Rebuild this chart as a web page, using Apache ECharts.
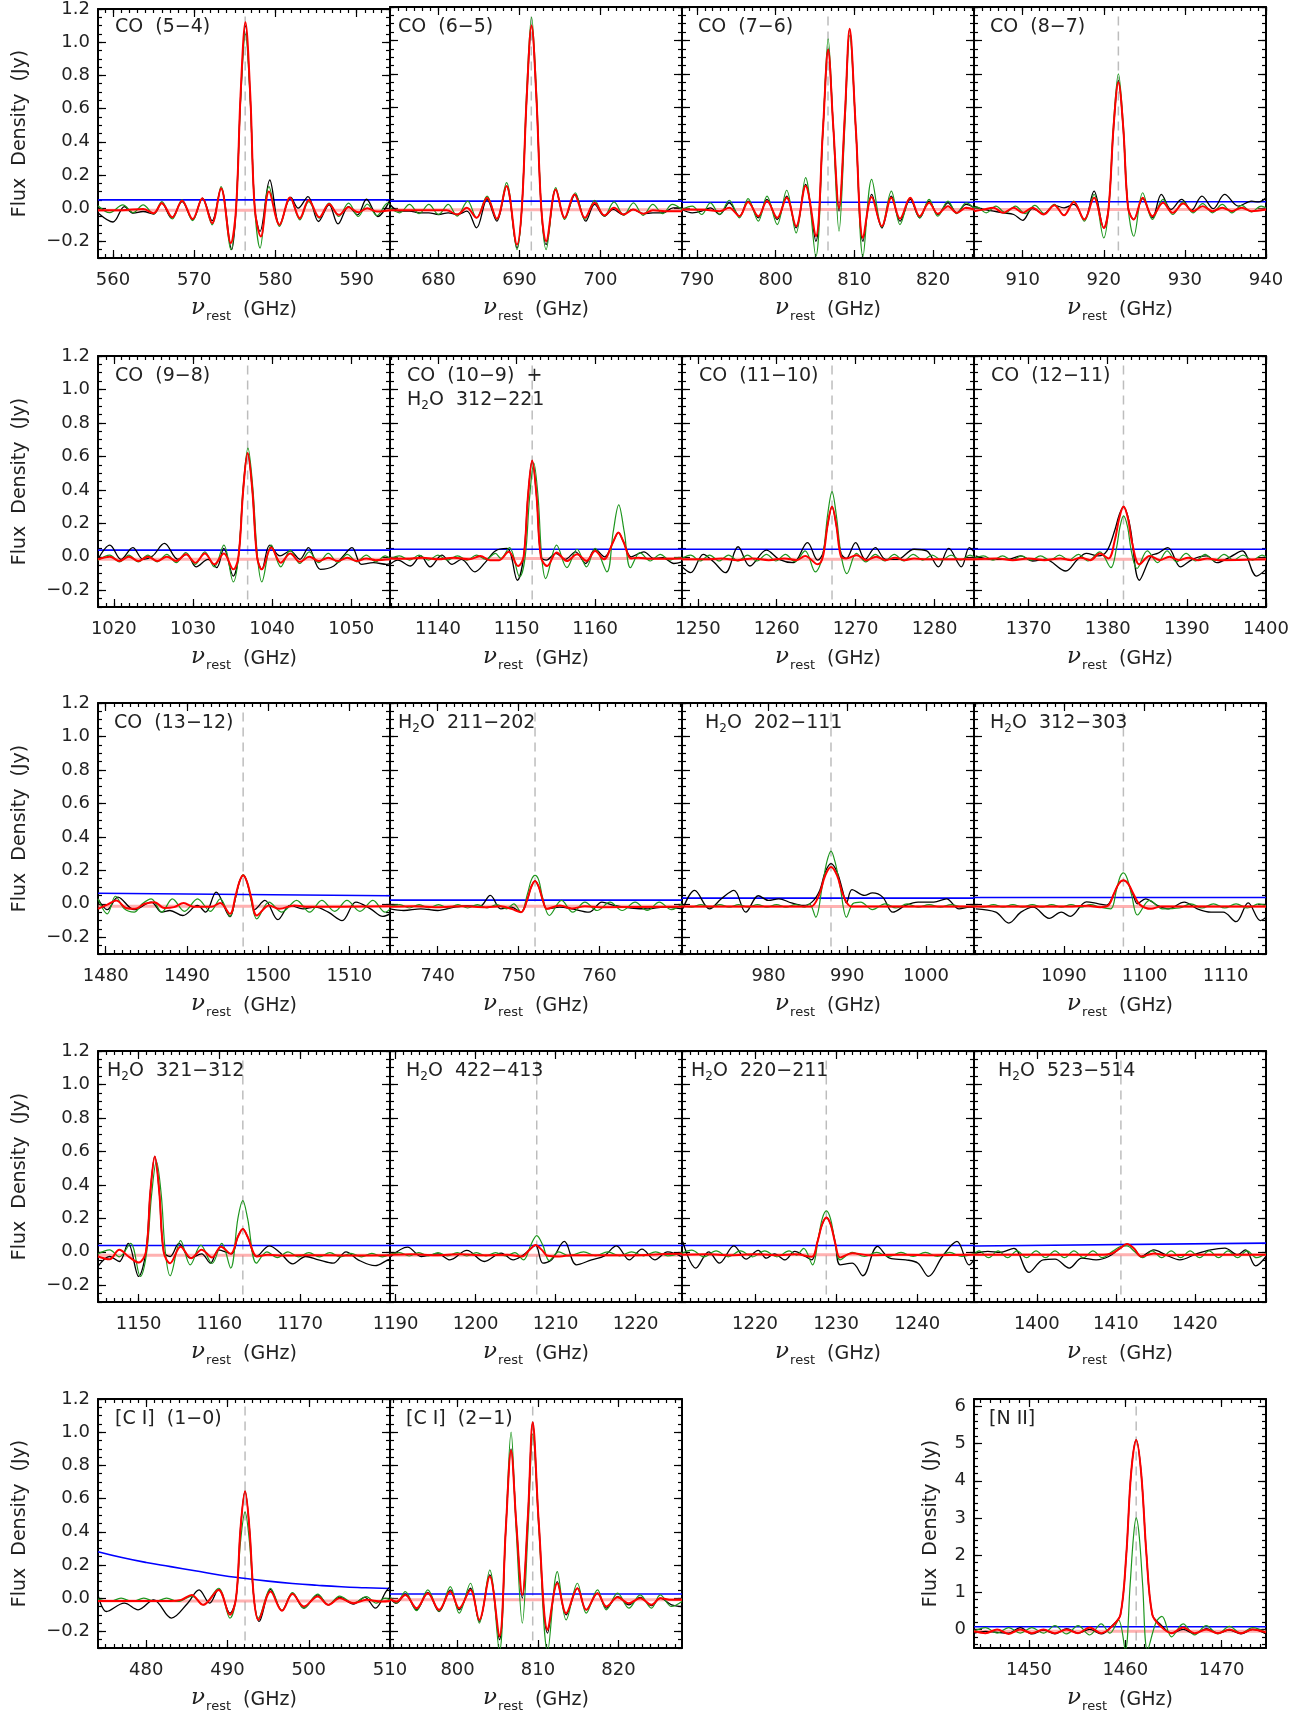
<!DOCTYPE html>
<html>
<head>
<meta charset="utf-8">
<script src="https://cdn.jsdelivr.net/npm/echarts@6.0.0/dist/echarts.min.js"></script>
<style>
html,body{margin:0;padding:0;background:#fff;}
#chart{width:1302px;height:1714px;}
</style>
</head>
<body>
<div id="chart"></div>
<script>
// ---- panel definitions ----
var panelTitles = [
  '{a|CO  (5−4)}', '{a|CO  (6−5)}', '{a|CO  (7−6)}', '{a|CO  (8−7)}',
  '{a|CO  (9−8)}', '{a|CO  (10−9)  +}\n{a|H}{s|2}{a|O  312−221}', '{a|CO  (11−10)}', '{a|CO  (12−11)}',
  '{a|CO  (13−12)}', '{a|H}{s|2}{a|O  211−202}', '{a|H}{s|2}{a|O  202−111}', '{a|H}{s|2}{a|O  312−303}',
  '{a|H}{s|2}{a|O  321−312}', '{a|H}{s|2}{a|O  422−413}', '{a|H}{s|2}{a|O  220−211}', '{a|H}{s|2}{a|O  523−514}',
  '{a|[C I]  (1−0)}', '{a|[C I]  (2−1)}', '{a|[N II]}'
];
var lineCenters = [576.27, 691.47, 806.65, 921.80, 1036.91, 1151.99, 1267.01, 1381.99, 1496.92,
  752.03, 987.93, 1097.37, 1162.91, 1207.64, 1228.79, 1410.64, 492.16, 809.34, 1461.13];
var xMins = [558.15, 674.0, 788.1, 904.0, 1018.0, 1133.9, 1248.0, 1363.1, 1479.05,
  734.1, 969.0, 1078.9, 1144.96, 1189.3, 1211.0, 1392.05, 474.06, 791.6, 1444.3];
var xMaxs = [594.1, 710.1, 825.2, 940.0, 1054.9, 1171.05, 1285.0, 1400.0, 1515.0,
  770.2, 1006.1, 1115.0, 1181.15, 1225.8, 1247.0, 1429.0, 510.0, 827.9, 1474.6];
var xTickLabels = [
  [560,570,580,590], [680,690,700], [790,800,810,820], [910,920,930,940],
  [1020,1030,1040,1050], [1140,1150,1160], [1250,1260,1270,1280], [1370,1380,1390,1400],
  [1480,1490,1500,1510], [740,750,760], [980,990,1000], [1090,1100,1110],
  [1150,1160,1170], [1190,1200,1210,1220], [1220,1230,1240], [1400,1410,1420],
  [480,490,500,510], [800,810,820], [1450,1460,1470]
];
var pinkLevels = [-0.012,-0.012,-0.01,-0.01,-0.015,-0.01,-0.015,-0.015,-0.015,-0.015,-0.016,-0.016,-0.02,-0.02,-0.018,-0.018,-0.017,-0.01,-0.05];

// ---- continuum (blue) ----
var p1b = [[558.15,0.05],[594.1,0.05]];
var p2b = [[674.0,0.04],[710.1,0.04]];
var p3b = [[788.1,0.033],[825.2,0.033]];
var p4b = [[904.0,0.036],[940.0,0.036]];
var p5b = [[1018.0,0.04],[1054.9,0.04]];
var p6b = [[1133.9,0.045],[1171.05,0.045]];
var p7b = [[1248.0,0.045],[1285.0,0.045]];
var p8b = [[1363.1,0.045],[1400.0,0.045]];
var p9b = [[1479.05,0.063],[1515.0,0.048]];
var p10b = [[734.1,0.022],[770.2,0.022]];
var p11b = [[969.0,0.034],[1006.1,0.034]];
var p12b = [[1078.9,0.038],[1115.0,0.038]];
var p13b = [[1144.96,0.038],[1181.15,0.038]];
var p14b = [[1189.3,0.038],[1225.8,0.038]];
var p15b = [[1211.0,0.038],[1247.0,0.038]];
var p16b = [[1392.05,0.035],[1429.0,0.052]];
var p17b = [[474.06,0.28],[477,0.245],[480,0.215],[483,0.19],[486,0.165],[489,0.14],[492,0.12],[495,0.103],[498,0.089],[501,0.078],[504,0.069],[507,0.063],[510,0.058]];
var p18b = [[791.6,0.025],[827.9,0.025]];
var p19b = [[1444.3,0.07],[1474.6,0.07]];

// ---- CO (5-4) ----
var p1k = [[558.2,-0.03],[560,-0.083],[561.4,0.01],[562.5,-0.03],[563.7,-0.02],[565,-0.035],[566,0.03],[567.2,-0.06],[568.5,0.04],[569.8,-0.07],[571,0.06],[572.2,-0.075],[573.3,0.12],[574.6,-0.25],[575.15,0.0],[575.7,0.66],[576.3,1.1],[576.9,0.66],[577.45,0.0],[578.1,-0.14],[579.3,0.17],[580.5,-0.1],[581.9,0.065],[582.8,0.0],[584,0.07],[585.3,-0.08],[586.6,0.02],[587.7,-0.095],[589,0.01],[590.1,-0.04],[591.2,0.054],[592.6,-0.05],[594.1,0.05]];
var p1r = [[558.15,-0.012],[561,-0.012],[563.7,-0.005],[565,-0.03],[566,0.03],[567.3,-0.055],[568.5,0.045],[569.8,-0.065],[571,0.06],[572.2,-0.09],[573.3,0.12],[574.5,-0.21],[575.15,0.0],[575.7,0.68],[576.3,1.12],[576.9,0.68],[577.45,0.0],[578.2,-0.17],[579.2,0.1],[580.5,-0.1],[581.8,0.065],[583,-0.06],[584.1,0.05],[585.4,-0.055],[586.6,0.025],[587.8,-0.04],[589,0.005],[590.2,-0.025],[591.3,0.0],[592.5,-0.02],[594.1,-0.012]];
var p1g = [[558.15,0.015],[559.6,-0.027],[561.2,0.02],[562.5,-0.027],[563.7,0.02],[565,-0.035],[566,0.04],[567.3,-0.065],[568.5,0.05],[569.8,-0.075],[571,0.06],[572.2,-0.1],[573.3,0.13],[574.5,-0.25],[575.15,0.0],[575.7,0.64],[576.3,1.05],[576.9,0.64],[577.45,0.0],[578.1,-0.24],[579.2,0.13],[580.5,-0.11],[581.8,0.065],[583,-0.07],[584.1,0.04],[585.4,-0.06],[586.6,0.03],[587.8,-0.05],[589,0.03],[590.2,-0.05],[591.3,0.025],[592.5,-0.045],[593.8,0.03],[594.1,0.02]];

// ---- CO (6-5) ----
var p2k = [[674,0.02],[675.2,-0.02],[676.4,-0.02],[677.6,-0.03],[678.8,-0.03],[680,-0.04],[681.2,-0.03],[682.3,-0.04],[683.5,-0.02],[684.7,-0.12],[686,0.05],[687.2,-0.08],[688.4,0.13],[689.7,-0.24],[690.3,0.0],[690.9,0.65],[691.5,1.09],[692.1,0.65],[692.7,0.0],[693.3,-0.22],[694.5,0.11],[695.6,-0.06],[696.9,0.08],[698.2,-0.08],[699.3,0.02],[700.5,-0.05],[701.6,-0.01],[702.8,-0.04],[704,-0.01],[705.3,-0.035],[706.5,-0.03],[707.8,-0.03],[709,0.0],[710.1,0.0]];
var p2r = [[674,-0.015],[681,-0.015],[682.3,-0.04],[683.5,0.0],[684.7,-0.06],[686,0.06],[687.2,-0.065],[688.4,0.13],[689.7,-0.22],[690.3,0.0],[690.9,0.66],[691.5,1.09],[692.1,0.66],[692.7,0.0],[693.3,-0.2],[694.5,0.11],[695.6,-0.06],[696.8,0.08],[698.1,-0.06],[699.3,0.03],[700.5,-0.045],[701.7,0.0],[702.9,-0.04],[704.1,-0.01],[705.3,-0.035],[706.5,-0.015],[708,-0.02],[710.1,-0.02]];
var p2g = [[674,0.0],[675.2,-0.03],[676.4,0.02],[677.6,-0.035],[678.8,0.02],[680,-0.04],[681.2,0.02],[682.3,-0.05],[683.6,0.04],[684.7,-0.06],[686,0.07],[687.2,-0.07],[688.4,0.15],[689.7,-0.25],[690.3,0.0],[690.9,0.7],[691.5,1.14],[692.1,0.7],[692.7,0.0],[693.3,-0.25],[694.5,0.12],[695.6,-0.07],[696.9,0.09],[698.1,-0.07],[699.3,0.045],[700.5,-0.05],[701.7,0.035],[702.9,-0.045],[704.1,0.03],[705.3,-0.045],[706.5,0.02],[707.7,-0.035],[708.9,0.02],[710.1,-0.01]];

// ---- CO (7-6) + [C I] (2-1) ----
var p3k = [[788.1,-0.01],[789.4,-0.03],[790.6,-0.02],[791.7,0.0],[792.9,-0.04],[794.1,0.03],[795.4,-0.05],[796.5,0.04],[797.8,-0.06],[798.9,0.05],[800.2,-0.07],[801.4,0.07],[802.6,-0.12],[803.8,0.14],[805.1,-0.2],[806,0.46],[806.67,0.95],[807.3,0.5],[808.05,-0.02],[808.8,0.56],[809.4,1.07],[810.2,0.46],[811.1,-0.2],[812.2,0.08],[813.5,-0.12],[814.7,0.07],[815.8,-0.08],[817.1,0.05],[818.3,-0.06],[819.5,0.04],[820.6,-0.04],[821.9,0.03],[823,-0.03],[824.2,0.02],[825.2,0.0]];
var p3r = [[788.1,-0.01],[791,-0.012],[792.9,-0.02],[794.1,0.0],[795.4,-0.05],[796.5,0.035],[797.8,-0.05],[798.9,0.04],[800.2,-0.06],[801.4,0.06],[802.6,-0.11],[803.8,0.13],[805.1,-0.17],[806,0.46],[806.67,0.944],[807.3,0.5],[808.05,0.0],[808.8,0.56],[809.4,1.07],[810.2,0.46],[811.1,-0.18],[812.2,0.065],[813.5,-0.11],[814.7,0.06],[815.8,-0.065],[817.1,0.06],[818.3,-0.05],[819.5,0.03],[820.6,-0.035],[821.9,0.01],[823,-0.03],[824.2,0.0],[825.2,-0.01]];
var p3g = [[788.1,-0.01],[789.4,0.01],[790.6,-0.04],[791.7,0.03],[792.9,-0.04],[794.1,0.045],[795.4,-0.06],[796.5,0.055],[797.8,-0.08],[798.9,0.07],[800.2,-0.1],[801.4,0.105],[802.6,-0.15],[803.8,0.18],[805.1,-0.29],[806,0.45],[806.67,1.01],[807.3,0.5],[808.05,-0.14],[808.8,0.5],[809.4,1.03],[810.2,0.45],[811.1,-0.29],[812.2,0.17],[813.5,-0.115],[814.7,0.1],[815.8,-0.1],[817.1,0.06],[818.3,-0.06],[819.5,0.05],[820.6,-0.05],[821.9,0.04],[823,-0.035],[824.2,0.03],[825.2,0.0]];

// ---- CO (8-7) ----
var p4k = [[904,0.01],[905.2,-0.01],[906.4,-0.02],[907.6,-0.03],[908.9,-0.04],[910,-0.075],[911.2,-0.005],[912.6,-0.035],[913.9,0.015],[915.1,0.0],[916.3,0.02],[917.6,-0.07],[918.8,0.1],[920,-0.12],[920.6,0.0],[921.2,0.47],[921.8,0.76],[922.4,0.47],[923,0.0],[923.7,-0.07],[924.8,0.055],[926,-0.06],[927.1,0.08],[928.3,-0.01],[929.6,0.05],[930.8,-0.015],[932.1,0.07],[933.5,-0.005],[934.9,0.08],[936.6,0.01],[938.2,0.04],[939.1,0.035],[940,0.06]];
var p4r = [[904,-0.02],[905.2,-0.01],[906.4,0.0],[907.6,-0.03],[908.9,0.0],[910,-0.03],[911.2,0.0],[912.6,-0.04],[913.9,0.015],[915.1,-0.045],[916.3,0.035],[917.6,-0.07],[918.8,0.06],[920,-0.12],[920.6,0.0],[921.2,0.48],[921.8,0.75],[922.4,0.48],[923,0.0],[923.7,-0.07],[924.8,0.06],[926,-0.05],[927.3,0.03],[928.5,-0.03],[929.8,0.025],[931,-0.02],[932.2,0.01],[933.4,-0.02],[934.6,0.0],[935.8,-0.02],[937,0.0],[938.2,-0.02],[940,-0.01]];
var p4g = [[904,0.0],[904.3,0.005],[905.5,-0.03],[906.7,0.01],[907.9,-0.03],[909.1,0.01],[910.3,-0.035],[911.5,0.015],[912.7,-0.035],[913.9,0.02],[915.1,-0.045],[916.3,0.04],[917.6,-0.08],[918.8,0.08],[920,-0.18],[920.6,0.0],[921.2,0.5],[921.8,0.8],[922.4,0.5],[923,0.0],[923.7,-0.17],[924.8,0.09],[926,-0.07],[927.3,0.05],[928.5,-0.04],[929.8,0.035],[931,-0.03],[932.2,0.025],[933.4,-0.03],[934.6,0.02],[935.8,-0.03],[937,0.015],[938.2,-0.025],[939.4,0.01],[940,0.0]];

// ---- CO (9-8) ----
var p5k = [[1018,-0.015],[1019.5,0.07],[1020.9,-0.015],[1022.4,0.055],[1023.7,-0.015],[1024.9,0.005],[1026.4,0.08],[1028.1,-0.015],[1029.2,0.015],[1030.4,-0.06],[1031.9,-0.015],[1033,-0.065],[1033.9,0.05],[1035.1,-0.115],[1035.75,0.0],[1036.35,0.4],[1036.91,0.62],[1037.5,0.4],[1038.1,0.0],[1038.7,-0.075],[1039.7,0.07],[1041,0.005],[1042.3,0.035],[1043.5,-0.015],[1044.6,0.055],[1046.1,-0.075],[1047.8,-0.055],[1049,0.005],[1050.1,0.055],[1051.3,-0.045],[1052.8,-0.035],[1054.5,-0.045],[1054.9,-0.04]];
var p5r = [[1018,-0.015],[1019.5,0.0],[1020.7,-0.025],[1021.9,0.0],[1023.1,-0.025],[1024.3,0.0],[1025.5,-0.025],[1026.7,0.0],[1027.9,-0.025],[1029.1,0.015],[1030.3,-0.035],[1031.5,0.02],[1032.7,-0.045],[1033.9,0.02],[1035.1,-0.075],[1035.75,0.0],[1036.35,0.4],[1036.91,0.62],[1037.5,0.4],[1038.1,0.0],[1038.7,-0.075],[1039.9,0.055],[1041.1,-0.035],[1042.3,0.02],[1043.5,-0.03],[1044.7,0.0],[1045.9,-0.025],[1047.1,-0.005],[1048.3,-0.025],[1049.5,-0.005],[1050.7,-0.025],[1051.9,-0.01],[1053.1,-0.02],[1054.9,-0.015]];
var p5g = [[1018,-0.02],[1019.5,0.01],[1020.7,-0.03],[1021.9,0.01],[1023.1,-0.03],[1024.3,0.01],[1025.5,-0.03],[1026.7,0.015],[1027.9,-0.035],[1029.1,0.025],[1030.3,-0.045],[1031.5,0.03],[1032.7,-0.06],[1033.9,0.07],[1035.1,-0.15],[1035.75,0.0],[1036.35,0.42],[1036.95,0.65],[1037.55,0.42],[1038.15,0.0],[1038.7,-0.15],[1039.9,0.07],[1041.1,-0.06],[1042.3,0.04],[1043.5,-0.04],[1044.7,0.03],[1045.9,-0.035],[1047.1,0.02],[1048.3,-0.035],[1049.5,0.015],[1050.7,-0.03],[1051.9,0.01],[1053.1,-0.03],[1054.3,0.005],[1054.9,-0.01]];

// ---- CO (10-9) + H2O 312-221 ----
var p6k = [[1133.9,-0.045],[1134.9,-0.02],[1136.5,-0.055],[1137.8,0.005],[1139,-0.06],[1140.5,0.01],[1141.8,-0.045],[1143,-0.015],[1144.7,-0.09],[1146,-0.035],[1147.3,0.035],[1148.8,0.05],[1150.1,-0.14],[1150.9,0.0],[1151.45,0.36],[1151.99,0.575],[1152.55,0.36],[1153.1,0.0],[1153.8,-0.02],[1155,0.02],[1156.2,-0.015],[1157.5,0.03],[1158.8,-0.04],[1160,0.045],[1161.2,0.0],[1162.3,0.09],[1162.95,0.145],[1163.6,0.09],[1164.6,0.0],[1166.2,0.03],[1167.5,-0.01],[1168.6,-0.005],[1170,-0.04],[1171.05,-0.03]];
var p6r = [[1133.9,-0.01],[1136,-0.012],[1138,-0.005],[1140,-0.015],[1142,-0.005],[1144,-0.015],[1145.4,0.005],[1146.6,-0.02],[1147.8,-0.02],[1149,0.03],[1150.2,-0.055],[1150.9,0.0],[1151.45,0.36],[1151.99,0.575],[1152.55,0.36],[1153.1,0.0],[1153.9,-0.055],[1155.1,0.025],[1156.4,-0.025],[1157.7,0.015],[1158.9,-0.025],[1160,0.035],[1161.1,-0.015],[1162.3,0.09],[1162.95,0.145],[1163.6,0.09],[1164.6,-0.01],[1165.5,-0.005],[1167,-0.012],[1171.05,-0.01]];
var p6g = [[1133.9,-0.015],[1135.1,0.005],[1136.4,-0.02],[1137.6,0.01],[1138.8,-0.02],[1140,0.01],[1141.2,-0.02],[1142.5,0.005],[1143.7,-0.02],[1144.9,0.01],[1146.1,-0.015],[1147.3,0.02],[1148,-0.01],[1149.1,0.055],[1150.4,-0.12],[1151.1,0.0],[1151.65,0.35],[1152.2,0.56],[1152.75,0.35],[1153.2,0.0],[1153.7,-0.13],[1155.1,0.07],[1156.4,-0.065],[1157.7,0.045],[1158.9,-0.06],[1160,0.05],[1161.5,-0.09],[1162.3,0.15],[1163,0.31],[1163.7,0.15],[1164.5,-0.065],[1165.7,0.025],[1167,-0.025],[1168.3,0.015],[1169.5,-0.02],[1170.4,-0.005],[1171.05,-0.01]];

// ---- CO (11-10) ----
var p7k = [[1248,-0.06],[1249.1,-0.095],[1250.7,0.015],[1252,-0.03],[1253.5,-0.095],[1255.1,0.06],[1256.6,-0.055],[1258.7,0.04],[1260.3,-0.015],[1262.1,-0.035],[1263.9,0.085],[1265.2,-0.02],[1265.85,0.02],[1266.45,0.19],[1267.01,0.3],[1267.55,0.19],[1268.15,0.02],[1268.8,-0.01],[1270,0.085],[1271.2,-0.015],[1272.5,0.055],[1273.8,-0.015],[1275.3,-0.015],[1277.4,0.045],[1279,0.035],[1280.5,-0.06],[1281.8,0.05],[1283.4,-0.06],[1284.4,0.055],[1285,0.03]];
var p7r = [[1248,-0.015],[1251,-0.015],[1253,-0.01],[1255,-0.02],[1257,-0.01],[1259,-0.02],[1261,-0.01],[1262.5,-0.02],[1263.6,0.005],[1265.2,-0.045],[1265.85,0.0],[1266.45,0.19],[1267.01,0.3],[1267.55,0.19],[1268.15,0.0],[1268.8,-0.01],[1270.1,0.01],[1271.4,-0.02],[1272.6,0.0],[1273.8,-0.02],[1275,-0.005],[1276.2,-0.02],[1277.4,-0.01],[1279,-0.015],[1285,-0.015]];
var p7g = [[1248,-0.01],[1249.1,0.01],[1250.3,-0.025],[1251.5,0.01],[1252.7,-0.025],[1253.9,0.01],[1255.1,-0.025],[1256.3,0.01],[1257.5,-0.025],[1258.7,0.015],[1259.9,-0.025],[1261.1,0.015],[1262.3,-0.03],[1263.6,0.035],[1264.9,-0.09],[1265.8,0.0],[1266.45,0.25],[1267.01,0.39],[1267.55,0.25],[1268.2,0.0],[1268.9,-0.1],[1270.1,0.02],[1271.3,-0.03],[1272.5,0.015],[1273.7,-0.025],[1274.9,0.015],[1276.1,-0.025],[1277.3,0.015],[1278.5,-0.02],[1279.7,0.01],[1280.9,-0.02],[1282.1,0.01],[1283.3,-0.02],[1284.5,0.01],[1285,0.0]];

// ---- CO (12-11) ----
var p8k = [[1363.3,0.005],[1365.3,-0.015],[1367.4,-0.015],[1369,0.005],[1370.5,-0.025],[1372.1,-0.015],[1374.7,-0.085],[1376.2,-0.015],[1377.3,0.02],[1378.8,0.005],[1379.9,0.035],[1380.9,0.16],[1381.45,0.25],[1382,0.3],[1382.55,0.24],[1382.9,0.16],[1384,-0.14],[1385.5,0.005],[1386.3,0.02],[1387.6,0.055],[1389.2,-0.06],[1390.7,-0.015],[1392.5,0.005],[1393.8,-0.035],[1395.5,0.0],[1397,0.035],[1398.8,-0.115],[1400,-0.075]];
var p8r = [[1363.1,-0.015],[1366,-0.01],[1368,-0.02],[1370,-0.01],[1372,-0.02],[1374,-0.01],[1375.4,-0.02],[1376.6,-0.005],[1377.8,-0.02],[1379,0.02],[1380.1,-0.01],[1380.9,0.1],[1381.45,0.23],[1382,0.3],[1382.55,0.23],[1383.1,0.08],[1384,-0.045],[1385.3,0.005],[1386.6,-0.02],[1387.8,0.0],[1389,-0.02],[1390.2,-0.005],[1391.4,-0.02],[1392.6,-0.01],[1394,-0.02],[1400,-0.015]];
var p8g = [[1363.1,-0.01],[1364.3,0.005],[1365.5,-0.02],[1366.7,0.005],[1367.9,-0.02],[1369.1,0.005],[1370.3,-0.02],[1371.5,0.005],[1372.7,-0.02],[1373.9,0.01],[1375.1,-0.02],[1376.3,0.015],[1377.5,-0.025],[1379,0.03],[1380.4,-0.065],[1381.1,0.05],[1381.55,0.18],[1382,0.245],[1382.5,0.18],[1383,0.03],[1383.7,-0.07],[1385,0.035],[1386.3,-0.035],[1387.5,0.035],[1388.7,-0.03],[1389.9,0.02],[1391.1,-0.025],[1392.3,0.015],[1393.5,-0.025],[1394.7,0.015],[1395.9,-0.02],[1397.1,0.01],[1398.3,-0.02],[1399.5,0.01],[1400,0.0]];

// ---- CO (13-12) ----
var p9k = [[1479.05,0.03],[1480.2,-0.035],[1481.5,0.04],[1483.5,-0.035],[1485.6,0.01],[1486.9,-0.05],[1487.9,-0.04],[1489.5,-0.07],[1491.3,-0.01],[1492.3,-0.05],[1493.6,0.07],[1495.3,-0.077],[1496,0.04],[1496.45,0.13],[1496.92,0.17],[1497.4,0.13],[1497.9,0.03],[1498.3,-0.035],[1499.6,0.02],[1501.2,-0.095],[1502.7,-0.01],[1504.3,-0.03],[1505.8,-0.02],[1507.4,-0.05],[1509.1,-0.1],[1510.8,0.01],[1512.6,-0.03],[1514.1,-0.075],[1515,-0.06]];
var p9r = [[1479.05,-0.03],[1480.2,-0.005],[1481.3,0.02],[1482.5,-0.025],[1483.6,-0.03],[1484.8,0.0],[1486,0.01],[1487.2,-0.025],[1488.4,-0.02],[1489.6,0.005],[1490.8,-0.018],[1493,-0.018],[1494.1,0.005],[1495.3,-0.06],[1496,0.05],[1496.45,0.13],[1496.92,0.17],[1497.4,0.13],[1497.9,0.04],[1498.6,-0.07],[1500.1,-0.01],[1501.4,-0.03],[1503.2,-0.01],[1505,-0.018],[1515,-0.015]];
var p9g = [[1479.05,0.03],[1480.2,-0.06],[1481.2,0.045],[1482.3,-0.03],[1483.5,-0.05],[1484.5,0.0],[1485.6,0.03],[1486.9,-0.05],[1488.2,0.03],[1489.7,-0.045],[1491.3,0.03],[1492.9,-0.045],[1494.1,0.03],[1495.3,-0.075],[1496,0.04],[1496.45,0.13],[1496.92,0.175],[1497.4,0.13],[1497.9,0.02],[1498.6,-0.09],[1500.1,0.01],[1501.7,-0.05],[1503.5,0.02],[1505.1,-0.05],[1506.6,0.02],[1508.2,-0.045],[1509.7,0.02],[1511.3,-0.045],[1512.9,0.02],[1514.4,-0.05],[1515,-0.03]];

// ---- H2O 211-202 ----
var p10k = [[734.1,-0.03],[735.8,-0.04],[737.9,-0.03],[740,-0.04],[742.1,-0.02],[743.6,-0.012],[745.2,-0.016],[746.5,0.05],[747.8,-0.03],[749.1,-0.02],[750.3,-0.05],[751.1,0.03],[751.55,0.1],[752.03,0.137],[752.5,0.1],[753,0.02],[753.5,-0.03],[755.1,-0.02],[756.6,-0.03],[758.7,-0.05],[760.3,0.01],[761.8,-0.01],[763.9,-0.025],[766,-0.03],[768,-0.02],[770.2,-0.03]];
var p10r = [[734.1,-0.018],[737,-0.015],[740,-0.02],[743,-0.015],[746,-0.02],[747.8,-0.015],[749.1,-0.03],[750.3,-0.05],[751.1,0.03],[751.55,0.1],[752.03,0.137],[752.5,0.1],[753,0.02],[753.5,-0.03],[755.1,-0.01],[756.6,-0.028],[758.2,-0.015],[760,-0.02],[770.2,-0.018]];
var p10g = [[734.1,-0.015],[735.3,-0.005],[736.5,-0.025],[737.7,-0.005],[738.9,-0.025],[740.1,-0.005],[741.3,-0.025],[742.5,-0.005],[743.7,-0.025],[744.9,-0.005],[746.1,-0.025],[747.3,-0.005],[748.5,-0.03],[749.4,0.0],[750.3,-0.05],[751.1,0.06],[751.55,0.14],[752.03,0.17],[752.5,0.14],[753,0.03],[753.8,-0.07],[755.3,0.02],[756.7,-0.05],[758.2,0.01],[759.7,-0.04],[761.3,0.01],[762.8,-0.04],[764.4,0.01],[765.9,-0.04],[767.4,0.01],[768.9,-0.035],[770.2,0.0]];

// ---- H2O 202-111 ----
var p11k = [[969.1,-0.03],[970.6,0.08],[972.5,-0.03],[974,0.03],[975.6,0.08],[977.1,-0.05],[978.7,0.048],[980,0.02],[981.3,0.03],[982.9,0.005],[984.4,-0.01],[985.5,0.01],[986.5,0.08],[987.2,0.19],[987.93,0.24],[988.7,0.19],[989.4,0.08],[989.9,0.005],[990.6,0.085],[992.2,0.05],[993.2,0.065],[994.5,0.04],[995.8,-0.05],[997.4,-0.01],[999,0.01],[1001,0.01],[1002.6,0.03],[1004.2,-0.03],[1005.5,-0.02],[1006.1,-0.02]];
var p11r = [[969,-0.016],[975,-0.016],[980,-0.016],[984,-0.016],[985.4,-0.016],[986.4,0.05],[987.2,0.17],[987.93,0.22],[988.7,0.17],[989.5,0.05],[990.5,-0.016],[994,-0.016],[1000,-0.016],[1006.1,-0.016]];
var p11g = [[969,-0.01],[970.2,-0.02],[971.4,-0.005],[972.6,-0.02],[973.8,-0.005],[975,-0.02],[976.2,-0.005],[977.4,-0.02],[978.6,-0.005],[979.8,-0.02],[981,-0.005],[982.2,-0.02],[983.4,-0.005],[984.6,-0.02],[985.2,0.0],[986,-0.08],[986.8,0.1],[987.4,0.25],[987.93,0.315],[988.45,0.25],[989.1,0.1],[989.9,-0.08],[990.7,0.0],[991.7,0.01],[993.2,-0.035],[994.8,0.0],[996.2,-0.025],[997.6,0.0],[999,-0.02],[1000.4,-0.005],[1001.8,-0.02],[1003.2,-0.005],[1004.6,-0.02],[1006.1,-0.01]];

// ---- H2O 312-303 ----
var p12k = [[1079.1,-0.03],[1081.6,-0.05],[1083.2,-0.115],[1084.7,-0.05],[1086.2,-0.02],[1088.2,-0.087],[1089.7,-0.05],[1090.8,-0.075],[1092.8,0.012],[1094.3,0.0],[1095.3,-0.008],[1096.2,0.06],[1096.8,0.12],[1097.37,0.14],[1097.95,0.12],[1098.6,0.05],[1099.1,0.0],[1100.1,0.03],[1101.6,-0.01],[1102.9,-0.03],[1104.9,0.01],[1106.5,-0.03],[1108.2,-0.05],[1109.7,-0.05],[1111.3,-0.107],[1112.8,0.005],[1114.3,-0.1],[1115,-0.08]];
var p12r = [[1078.9,-0.016],[1082,-0.016],[1086,-0.016],[1090,-0.016],[1093,-0.012],[1094.5,-0.02],[1095.5,-0.01],[1096.2,0.06],[1096.8,0.12],[1097.37,0.14],[1097.95,0.12],[1098.6,0.06],[1099.4,-0.005],[1100.8,-0.03],[1102,-0.016],[1106,-0.016],[1110,-0.016],[1115,-0.016]];
var p12g = [[1078.9,-0.01],[1080.1,-0.02],[1081.3,-0.005],[1082.5,-0.02],[1083.7,-0.005],[1084.9,-0.02],[1086.1,-0.005],[1087.3,-0.02],[1088.5,-0.005],[1089.7,-0.02],[1090.9,-0.005],[1092.1,-0.02],[1093.3,-0.005],[1094.5,-0.02],[1095.8,-0.03],[1096.5,0.08],[1096.95,0.16],[1097.37,0.185],[1097.85,0.15],[1098.4,0.05],[1099.1,-0.067],[1100.6,0.02],[1102.2,-0.03],[1104.3,-0.025],[1105.7,0.0],[1107.1,-0.025],[1108.5,0.0],[1109.9,-0.025],[1111.3,0.0],[1112.7,-0.025],[1114.1,0.0],[1115,-0.01]];

// ---- H2O 321-312 ----
var p13k = [[1144.96,-0.087],[1146.4,-0.028],[1147.6,-0.058],[1148.7,0.05],[1150,-0.147],[1150.9,0.0],[1151.45,0.36],[1152,0.57],[1152.55,0.36],[1153.1,0.0],[1153.9,-0.028],[1155,0.05],[1156.4,-0.038],[1157.8,-0.012],[1158.9,-0.068],[1159.9,0.012],[1161.5,-0.012],[1162.3,0.09],[1162.91,0.137],[1163.5,0.09],[1164.6,-0.028],[1166.2,0.035],[1167.5,-0.004],[1169.1,-0.072],[1170.7,-0.028],[1172.3,-0.048],[1174.1,-0.068],[1175.7,0.0],[1177.2,-0.048],[1179.3,-0.083],[1180.9,-0.048],[1181.15,-0.045]];
var p13r = [[1144.96,-0.028],[1146.4,-0.045],[1147.6,0.012],[1148.8,-0.03],[1150,-0.064],[1150.9,0.0],[1151.45,0.36],[1152,0.57],[1152.55,0.36],[1153.1,0.0],[1153.9,-0.068],[1155.2,0.03],[1156.5,-0.038],[1157.8,0.012],[1159.1,-0.034],[1160.2,0.03],[1161.4,-0.012],[1162.3,0.09],[1162.91,0.137],[1163.5,0.09],[1164.7,-0.028],[1166,-0.018],[1168,-0.022],[1172,-0.02],[1176,-0.022],[1181.15,-0.02]];
var p13g = [[1144.96,-0.012],[1146.4,0.012],[1147.6,-0.03],[1149,0.05],[1150.2,-0.147],[1151,0.0],[1151.6,0.34],[1152.2,0.54],[1152.8,0.34],[1153.3,0.0],[1153.9,-0.143],[1155.2,0.067],[1156.4,-0.078],[1157.7,0.04],[1159.1,-0.07],[1160.3,0.05],[1161.4,-0.097],[1162.3,0.2],[1162.91,0.306],[1163.5,0.2],[1164.6,-0.068],[1165.9,0.0],[1167.2,-0.035],[1168.5,0.0],[1169.8,-0.03],[1171.1,-0.005],[1172.4,-0.03],[1173.7,-0.005],[1175,-0.03],[1176.3,-0.01],[1177.6,-0.03],[1178.9,-0.01],[1180.2,-0.03],[1181.15,-0.015]];

// ---- H2O 422-413 ----
var p14k = [[1189.4,-0.028],[1191.5,0.028],[1193.2,-0.028],[1195.3,-0.012],[1196.8,-0.048],[1198.9,0.008],[1201.1,-0.058],[1203.2,-0.008],[1204.7,-0.048],[1205.8,-0.024],[1206.7,0.01],[1207.5,0.04],[1208.4,-0.068],[1209.5,-0.048],[1211.1,0.062],[1212.6,-0.078],[1214.5,-0.048],[1216.1,-0.024],[1217.6,0.036],[1219.2,-0.048],[1220.8,0.016],[1222.4,-0.048],[1224,0.0],[1225.8,-0.03]];
var p14r = [[1189.3,-0.018],[1192,-0.015],[1195,-0.02],[1198,-0.015],[1201,-0.02],[1204,-0.018],[1205.8,-0.028],[1206.7,0.01],[1207.5,0.04],[1208.3,0.01],[1209,-0.024],[1210.5,-0.028],[1212,-0.02],[1216,-0.02],[1220,-0.02],[1223,-0.015],[1225.8,-0.012]];
var p14g = [[1189.3,-0.015],[1190.5,-0.005],[1191.7,-0.025],[1192.9,-0.005],[1194.1,-0.025],[1195.3,-0.005],[1196.5,-0.025],[1197.7,-0.005],[1198.9,-0.025],[1200.1,-0.005],[1201.3,-0.025],[1202.5,-0.005],[1203.7,-0.025],[1204.9,-0.005],[1206,-0.048],[1206.9,0.04],[1207.64,0.097],[1208.4,0.04],[1209.2,-0.052],[1210.4,0.0],[1211.7,-0.024],[1213.5,0.0],[1215,-0.024],[1216.5,0.0],[1218,-0.024],[1219.5,0.0],[1221,-0.024],[1222.5,0.0],[1224,-0.024],[1225.8,-0.005]];

// ---- H2O 220-211 ----
var p15k = [[1211.1,0.06],[1212.7,-0.097],[1214.3,0.0],[1215.6,-0.068],[1217.4,0.036],[1218.9,-0.044],[1220.4,0.008],[1221.4,-0.038],[1222.4,-0.012],[1223.7,-0.048],[1224.9,0.002],[1226.2,-0.028],[1227,-0.048],[1227.7,0.06],[1228.25,0.16],[1228.8,0.205],[1229.35,0.16],[1229.9,0.05],[1230.5,-0.078],[1232,-0.068],[1233.3,-0.143],[1235.1,0.032],[1236.6,-0.038],[1238.6,-0.048],[1240.1,-0.068],[1241.4,-0.147],[1243.1,-0.028],[1244.9,0.062],[1246.4,-0.078],[1247,-0.048]];
var p15r = [[1211,-0.018],[1214,-0.015],[1217,-0.02],[1220,-0.015],[1223,-0.02],[1225,-0.015],[1227,-0.03],[1227.7,0.06],[1228.25,0.16],[1228.8,0.205],[1229.35,0.16],[1229.9,0.05],[1230.5,-0.034],[1232,-0.008],[1234,-0.02],[1238,-0.018],[1242,-0.02],[1247,-0.018]];
var p15g = [[1211,-0.01],[1212.2,0.01],[1213.7,-0.03],[1215.2,0.005],[1216.7,-0.03],[1218.2,0.005],[1219.7,-0.03],[1221.2,0.005],[1222.7,-0.03],[1224.2,0.005],[1225.1,-0.02],[1226,0.02],[1227.1,-0.078],[1227.8,0.08],[1228.3,0.2],[1228.8,0.245],[1229.3,0.2],[1229.8,0.08],[1230.5,-0.048],[1232,-0.004],[1233.5,-0.028],[1235,-0.004],[1236.5,-0.028],[1238,-0.004],[1239.5,-0.028],[1241,-0.004],[1242.5,-0.028],[1244,-0.004],[1245.5,-0.028],[1247,-0.01]];

// ---- H2O 523-514 ----
var p16k = [[1392.2,-0.01],[1393.8,0.002],[1395.3,-0.004],[1397.1,0.02],[1399,-0.123],[1400.8,-0.048],[1402.3,-0.044],[1404.1,-0.097],[1405.7,-0.038],[1407.5,-0.048],[1409.1,-0.028],[1410.5,0.02],[1411.4,0.046],[1412.3,0.02],[1413.2,-0.028],[1414.8,0.012],[1416.3,-0.018],[1418.1,-0.048],[1420.2,-0.012],[1422,0.012],[1423.8,0.022],[1425.4,-0.018],[1426.4,0.012],[1427.7,-0.084],[1429,-0.028]];
var p16r = [[1392.05,-0.018],[1396,-0.018],[1400,-0.018],[1404,-0.018],[1408,-0.018],[1409.5,-0.01],[1410.5,0.02],[1411.4,0.046],[1412.3,0.02],[1413.2,-0.028],[1414.8,-0.01],[1416.3,-0.02],[1420,-0.018],[1424,-0.018],[1429,-0.018]];
var p16g = [[1392.05,-0.02],[1392.7,0.005],[1393.9,-0.035],[1395.1,0.005],[1396.3,-0.035],[1397.5,0.005],[1398.7,-0.035],[1399.9,0.005],[1401.1,-0.035],[1402.3,0.005],[1403.5,-0.035],[1404.7,0.005],[1405.9,-0.035],[1407.1,0.005],[1408.3,-0.035],[1409.5,0.0],[1410.5,0.03],[1411.4,0.036],[1412.4,0.0],[1413.4,-0.035],[1414.6,0.005],[1415.8,-0.035],[1417,0.005],[1418.2,-0.035],[1419.4,0.005],[1420.6,-0.035],[1421.8,0.005],[1423,-0.035],[1424.2,0.005],[1425.4,-0.035],[1426.6,0.005],[1427.8,-0.035],[1429,-0.01]];

// ---- [C I] (1-0) ----
var p17k = [[474.06,0.02],[475.1,-0.08],[477.3,-0.03],[479,-0.07],[480.9,-0.01],[483.1,-0.12],[485.1,-0.03],[486.5,0.05],[487.8,-0.03],[488.9,0.053],[490.3,-0.09],[491.05,0.0],[491.6,0.42],[492.16,0.645],[492.7,0.42],[493.25,0.0],[493.9,-0.14],[495.3,0.053],[496.7,-0.075],[498,0.03],[499.4,-0.06],[501.1,0.02],[502.4,-0.04],[503.8,0.005],[505.5,-0.035],[506.9,0.005],[508.2,-0.06],[509.5,0.04],[510,0.07]];
var p17r = [[474.06,-0.017],[477,-0.017],[480,-0.017],[483,-0.017],[484.3,-0.01],[485.6,0.02],[487,-0.04],[488.9,0.05],[490.3,-0.1],[491.05,0.0],[491.6,0.42],[492.16,0.645],[492.7,0.42],[493.25,0.0],[493.8,-0.13],[495.3,0.04],[496.7,-0.075],[498,0.025],[499.4,-0.05],[501.1,0.01],[502.4,-0.04],[503.8,0.0],[505.5,-0.03],[507.1,-0.01],[509,-0.02],[510,-0.017]];
var p17g = [[474.06,-0.005],[475.5,-0.02],[476.9,0.0],[478.3,-0.02],[479.7,0.0],[481.1,-0.02],[482.5,0.0],[483.9,-0.02],[485.6,0.013],[487,-0.04],[488.9,0.06],[490.3,-0.12],[491.05,0.0],[491.6,0.34],[492.16,0.52],[492.7,0.34],[493.25,0.0],[493.8,-0.12],[495.3,0.06],[496.7,-0.075],[498,0.033],[499.4,-0.06],[501.1,0.025],[502.4,-0.04],[503.8,0.013],[505.5,-0.03],[507.1,0.01],[508.3,-0.03],[509.4,0.0],[510,-0.01]];

// ---- [C I] (2-1) ----
var p18k = [[791.6,0.0],[792.4,-0.03],[793.5,0.025],[794.9,-0.07],[796.3,0.035],[797.7,-0.08],[799.1,0.05],[800.2,-0.07],[801.6,0.06],[802.7,-0.14],[804,0.14],[805.2,-0.25],[806,0.42],[806.65,0.9],[807.3,0.45],[808.05,0.0],[808.75,0.5],[809.34,1.06],[810.1,0.45],[811.2,-0.21],[812.4,0.1],[813.5,-0.1],[814.9,0.06],[816,-0.07],[817.4,0.03],[818.5,-0.06],[819.9,0.01],[821.3,-0.04],[822.7,0.005],[824.1,-0.045],[825.2,0.0],[826.6,-0.04],[827.9,-0.05]];
var p18r = [[791.6,-0.005],[792.4,-0.02],[793.5,0.02],[794.9,-0.06],[796.3,0.03],[797.7,-0.07],[799.1,0.04],[800.2,-0.06],[801.6,0.05],[802.7,-0.13],[804,0.13],[805.2,-0.23],[806,0.42],[806.65,0.89],[807.3,0.45],[808.05,0.02],[808.75,0.5],[809.34,1.06],[810.1,0.45],[811.2,-0.19],[812.4,0.09],[813.5,-0.09],[814.9,0.06],[816,-0.07],[817.4,0.03],[818.5,-0.05],[819.9,0.005],[821.3,-0.03],[822.7,0.0],[824.1,-0.04],[825.2,0.0],[826.6,-0.01],[827.9,-0.01]];
var p18g = [[791.6,0.01],[792.4,-0.03],[793.5,0.04],[794.9,-0.075],[796.3,0.05],[797.7,-0.08],[799.1,0.07],[800.2,-0.09],[801.6,0.09],[802.7,-0.15],[804,0.17],[805.2,-0.32],[806,0.42],[806.65,1.0],[807.3,0.4],[808.05,-0.15],[808.75,0.4],[809.34,0.99],[810.1,0.42],[811.2,-0.32],[812.4,0.16],[813.5,-0.13],[814.9,0.09],[816,-0.09],[817.4,0.05],[818.5,-0.07],[819.9,0.03],[821.3,-0.06],[822.7,0.02],[824.1,-0.06],[825.2,0.02],[826.6,-0.05],[827.9,-0.02]];

// ---- [N II] ----
var p19k = [[1444.3,-0.1],[1445.5,-0.05],[1446.7,-0.08],[1447.9,-0.1],[1449.1,0.05],[1450.3,-0.12],[1451.5,-0.02],[1452.7,-0.12],[1453.9,0.02],[1455.1,-0.1],[1456.3,0.0],[1457.5,-0.12],[1458.7,0.12],[1459.5,0.4],[1460.1,2.0],[1460.6,4.2],[1461.13,5.1],[1461.65,4.2],[1462.2,2.0],[1462.8,0.4],[1463.6,0.15],[1464.8,-0.1],[1466,0.0],[1467.2,-0.12],[1468.4,0.02],[1469.6,-0.1],[1470.8,-0.02],[1472,-0.12],[1473.2,0.0],[1474.6,-0.12]];
var p19r = [[1444.3,-0.05],[1445.5,-0.1],[1446.7,0.0],[1447.9,-0.12],[1449.1,0.0],[1450.3,-0.1],[1451.5,0.0],[1452.7,-0.1],[1453.9,0.0],[1455.1,-0.1],[1456.3,0.05],[1457.5,-0.1],[1458.7,0.1],[1459.5,0.4],[1460.1,2.0],[1460.6,4.2],[1461.13,5.1],[1461.65,4.2],[1462.2,2.0],[1462.8,0.4],[1463.6,0.1],[1464.8,-0.1],[1466,0.05],[1467.2,-0.1],[1468.4,0.0],[1469.6,-0.1],[1470.8,0.0],[1472,-0.1],[1473.2,0.0],[1474.6,-0.08]];
var p19g = [[1444.3,-0.05],[1445.5,0.05],[1446.7,-0.1],[1447.9,0.05],[1449.1,-0.1],[1450.3,0.05],[1451.5,-0.1],[1452.7,0.1],[1453.9,-0.12],[1455.1,0.1],[1456.3,-0.15],[1457.5,0.15],[1458.4,-0.1],[1459.3,0.25],[1460.0,-0.55],[1460.5,1.2],[1460.85,2.5],[1461.13,3.0],[1461.45,2.5],[1461.8,1.2],[1462.3,-0.55],[1463.2,0.2],[1463.8,0.35],[1464.8,-0.2],[1466,0.15],[1467.2,-0.15],[1468.4,0.1],[1469.6,-0.12],[1470.8,0.08],[1472,-0.1],[1473.2,0.05],[1474.6,-0.08]];

var blackCurves = [p1k,p2k,p3k,p4k,p5k,p6k,p7k,p8k,p9k,p10k,p11k,p12k,p13k,p14k,p15k,p16k,p17k,p18k,p19k];
var redCurves = [p1r,p2r,p3r,p4r,p5r,p6r,p7r,p8r,p9r,p10r,p11r,p12r,p13r,p14r,p15r,p16r,p17r,p18r,p19r];
var greenCurves = [p1g,p2g,p3g,p4g,p5g,p6g,p7g,p8g,p9g,p10g,p11g,p12g,p13g,p14g,p15g,p16g,p17g,p18g,p19g];
var blueCurves = [p1b,p2b,p3b,p4b,p5b,p6b,p7b,p8b,p9b,p10b,p11b,p12b,p13b,p14b,p15b,p16b,p17b,p18b,p19b];

// ---- layout ----
var FONT = 'DejaVu Sans';
var TXT = '#222';
var colLefts = [98, 390, 682, 974];
var rowTops = [7, 356, 703, 1051, 1399];
var gridW = 292, gridH = 251;
var panelCols = [0,1,2,3, 0,1,2,3, 0,1,2,3, 0,1,2,3, 0,1,3];
var panelRows = [0,0,0,0, 1,1,1,1, 2,2,2,2, 3,3,3,3, 4,4,4];
var titleOffsets = [17,8,16,16, 17,17,17,17, 16,8,23,16, 9,16,9,24, 17,16,15];

function steps(a, b, step) {
  var out = [], n0 = Math.ceil(a / step - 1e-9), n1 = Math.floor(b / step + 1e-9);
  for (var n = n0; n <= n1; n++) out.push(+(n * step).toFixed(4));
  return out;
}

function makeAxis(gi, pos, min, max, ticks, len, line, label) {
  return {
    type: 'value', gridIndex: gi, position: pos, min: min, max: max,
    splitLine: {show: false},
    axisLine: {show: line, onZero: false, lineStyle: {color: '#000', width: 2}},
    axisTick: {show: true, inside: true, length: len, customValues: ticks,
               lineStyle: {color: '#000', width: 1.2}},
    axisLabel: label ? Object.assign({show: true, customValues: ticks}, label) : {show: false}
  };
}

var labelStyle = {fontFamily: FONT, fontSize: 18, color: TXT};
var xName = '{nu|ν}{sub|rest}{g|  (GHz)}';
var xNameStyle = {rich: {
  nu: {fontFamily: 'DejaVu Serif', fontStyle: 'italic', fontSize: 23, color: TXT, lineHeight: 26, verticalAlign: 'bottom'},
  sub: {fontFamily: FONT, fontSize: 13, color: TXT, lineHeight: 13, verticalAlign: 'bottom', padding: [0, 0, -3, 1]},
  g: {fontFamily: FONT, fontSize: 19, color: TXT, lineHeight: 26, verticalAlign: 'bottom'}
}};

var grids = [], xAxes = [], yAxes = [], series = [], titles = [];

for (var i = 0; i < 19; i++) {
  var gl = colLefts[panelCols[i]], gt = rowTops[panelRows[i]];
  grids.push({left: gl, top: gt, width: gridW, height: gridH});
  var isN = (i === 18);
  var ymin = isN ? -0.5 : -0.3, ymax = isN ? 6.2 : 1.2;
  var yMaj = isN ? [0,1,2,3,4,5,6] : steps(-0.2, 1.2, 0.2);
  var yMin = isN ? steps(-0.5, 6.2, 0.2) : steps(-0.3, 1.2, 0.05);
  var xMaj = xTickLabels[i];
  var xMin = steps(xMins[i], xMaxs[i], 1);
  var showY = (panelCols[i] === 0) || isN;

  var xi = xAxes.length;
  var xb = makeAxis(i, 'bottom', xMins[i], xMaxs[i], xMaj, 8, true,
    Object.assign({margin: 13, formatter: function (v) { return String(v); }}, labelStyle));
  xb.name = xName; xb.nameLocation = 'middle'; xb.nameGap = 36; xb.nameTextStyle = xNameStyle;
  xAxes.push(xb);
  xAxes.push(makeAxis(i, 'bottom', xMins[i], xMaxs[i], xMin, 4, false, null));
  xAxes.push(makeAxis(i, 'top', xMins[i], xMaxs[i], xMaj, 8, true, null));
  xAxes.push(makeAxis(i, 'top', xMins[i], xMaxs[i], xMin, 4, false, null));

  var yi = yAxes.length;
  var yl = makeAxis(i, 'left', ymin, ymax, yMaj, 8, true, showY ? Object.assign({
    margin: 8,
    formatter: isN ? function (v) { return String(v); }
                   : function (v) { return v.toFixed(1).replace('-', '−'); }
  }, labelStyle) : null);
  if (showY) {
    yl.name = 'Flux  Density  (Jy)'; yl.nameLocation = 'middle';
    yl.nameGap = isN ? 33 : 68;
    yl.nameTextStyle = {fontFamily: FONT, fontSize: 19, color: TXT};
  }
  yAxes.push(yl);
  yAxes.push(makeAxis(i, 'left', ymin, ymax, yMin, 4, false, null));
  yAxes.push(makeAxis(i, 'right', ymin, ymax, yMaj, 8, true, null));
  yAxes.push(makeAxis(i, 'right', ymin, ymax, yMin, 4, false, null));

  function addLine(data, color, width, z, smooth, dash) {
    series.push({
      type: 'line', xAxisIndex: xi, yAxisIndex: yi, data: data,
      showSymbol: false, symbol: 'none', smooth: smooth, clip: true,
      lineStyle: {color: color, width: width, type: dash || 'solid'},
      z: z, silent: true, animation: false
    });
  }
  var span = ymax - ymin;
  addLine([[lineCenters[i], ymin + 0.03 * span], [lineCenters[i], ymax - 0.015 * span]],
          '#bdbdbd', 1.5, 1, false, [9, 6]);
  addLine([[xMins[i], pinkLevels[i]], [xMaxs[i], pinkLevels[i]]], 'rgba(255,100,100,0.5)', 3, 2, false);
  addLine(blueCurves[i], '#0000ff', 1.6, 3, true);
  addLine(blackCurves[i], '#000000', 1.3, 4, 0.35);
  addLine(greenCurves[i], '#1e961e', 1.2, 5, 0.35);
  addLine(redCurves[i], '#ff0000', 2.0, 6, 0.35);

  titles.push({
    text: panelTitles[i], left: gl + titleOffsets[i], top: gt + 8, padding: 0,
    textStyle: {fontFamily: FONT, fontSize: 19, fontWeight: 'normal', color: TXT,
      rich: {
        a: {fontFamily: FONT, fontSize: 19, color: TXT, lineHeight: 24, verticalAlign: 'middle'},
        s: {fontFamily: FONT, fontSize: 12, color: TXT, lineHeight: 12, verticalAlign: 'bottom'}
      }}
  });
}

var chart = echarts.init(document.getElementById('chart'), null, {renderer: 'canvas'});
chart.setOption({
  backgroundColor: '#ffffff',
  animation: false,
  title: titles,
  grid: grids,
  xAxis: xAxes,
  yAxis: yAxes,
  series: series
});
</script>
</body>
</html>
